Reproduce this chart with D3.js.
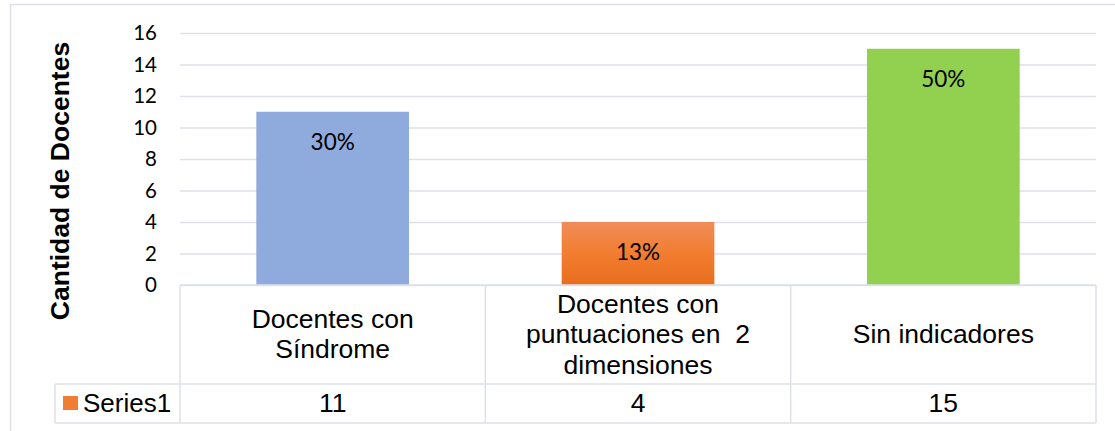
<!DOCTYPE html>
<html>
<head>
<meta charset="utf-8">
<script src="https://cdn.jsdelivr.net/npm/d3@7"></script>
<style>
  html, body { margin: 0; padding: 0; background: #fff; }
  svg { display: block; }
</style>
</head>
<body>
<svg id="chart" width="1115" height="431"></svg>
<script>
// chart data
var categories = ["Docentes con\nSíndrome", "Docentes con\npuntuaciones en\u00a0 2\ndimensiones", "Sin indicadores"];
var values = [11, 4, 15];
var pctLabels = ["30%", "13%", "50%"];
var barColors = ["#8FAADC", "url(#orangeGrad)", "#92D050"];
var yTicks = [0, 2, 4, 6, 8, 10, 12, 14, 16];
var seriesName = "Series1";

var gridColor = "#DDE1E7";
var svg = d3.select("#chart");

// gradient for the middle bar
var grad = svg.append("defs").append("linearGradient")
    .attr("id", "orangeGrad")
    .attr("x1", 0).attr("y1", 0).attr("x2", 0).attr("y2", 1);
grad.append("stop").attr("offset", "0%").attr("stop-color", "#F08C58");
grad.append("stop").attr("offset", "50%").attr("stop-color", "#F27D30");
grad.append("stop").attr("offset", "100%").attr("stop-color", "#E86E1D");

// outer chart border
svg.append("rect")
    .attr("x", 10.5).attr("y", 4.5)
    .attr("width", 1120).attr("height", 440)
    .attr("fill", "none")
    .attr("stroke", gridColor)
    .attr("stroke-width", 1.5);

var plotLeft = 180, plotRight = 1096, plotTop = 33, plotBottom = 285;
var rowMid = 384, tableBottom = 423, legendLeft = 55;

var x = d3.scaleBand()
    .domain(d3.range(categories.length))
    .range([plotLeft, plotRight])
    .paddingInner(0.5)
    .paddingOuter(0.25);

var xCell = d3.scaleBand()
    .domain(d3.range(categories.length))
    .range([plotLeft, plotRight])
    .padding(0);

var y = d3.scaleLinear()
    .domain([0, 16])
    .range([plotBottom, plotTop]);

// gridlines + tick labels
var yAxis = d3.axisLeft(y)
    .tickValues(yTicks)
    .tickSize(-(plotRight - plotLeft))
    .tickPadding(23)
    .tickFormat(d3.format("d"));

var gAxis = svg.append("g")
    .attr("transform", "translate(" + plotLeft + ",0)")
    .call(yAxis);
gAxis.select(".domain").remove();
gAxis.selectAll(".tick line")
    .attr("stroke", gridColor)
    .attr("stroke-width", 1.5);
gAxis.selectAll(".tick text")
    .attr("fill", "#000")
    .style("font-family", "Lato, 'Open Sans', sans-serif")
    .style("font-size", "20.5px");

// bars
svg.append("g").selectAll("rect")
    .data(values)
    .enter().append("rect")
    .attr("x", function (d, i) { return x(i); })
    .attr("y", function (d) { return y(d); })
    .attr("width", x.bandwidth())
    .attr("height", function (d) { return y(0) - y(d); })
    .attr("fill", function (d, i) { return barColors[i]; });

// data labels, inside end
svg.append("g").selectAll("text")
    .data(values)
    .enter().append("text")
    .attr("x", function (d, i) { return x(i) + x.bandwidth() / 2; })
    .attr("y", function (d) { return y(d) + 38; })
    .attr("text-anchor", "middle")
    .style("font-family", "Lato, 'Open Sans', sans-serif")
    .style("font-size", "22.5px")
    .attr("fill", "#000")
    .text(function (d, i) { return pctLabels[i]; });

// data table lines
var tbl = svg.append("g")
    .attr("stroke", gridColor)
    .attr("stroke-width", 1.5)
    .attr("fill", "none");

tbl.append("line").attr("x1", plotLeft).attr("x2", plotRight).attr("y1", plotBottom).attr("y2", plotBottom);
tbl.append("line").attr("x1", legendLeft).attr("x2", plotRight).attr("y1", rowMid).attr("y2", rowMid);
tbl.append("line").attr("x1", legendLeft).attr("x2", plotRight).attr("y1", tableBottom).attr("y2", tableBottom);
tbl.append("line").attr("x1", legendLeft).attr("x2", legendLeft).attr("y1", rowMid).attr("y2", tableBottom);
tbl.selectAll(".vline")
    .data(d3.range(categories.length + 1))
    .enter().append("line")
    .attr("class", "vline")
    .attr("x1", function (i) { return i < categories.length ? xCell(i) : plotRight; })
    .attr("x2", function (i) { return i < categories.length ? xCell(i) : plotRight; })
    .attr("y1", plotBottom)
    .attr("y2", tableBottom);

// category labels
var lineH = 30.5, midBase = 343;
var catG = svg.append("g")
    .style("font-family", "'Liberation Sans', Arial, sans-serif")
    .style("font-size", "26.5px")
    .attr("fill", "#000")
    .attr("text-anchor", "middle");

categories.forEach(function (c, i) {
    var lines = c.split("\n");
    var cx = xCell(i) + xCell.bandwidth() / 2;
    lines.forEach(function (ln, j) {
        catG.append("text")
            .attr("x", cx)
            .attr("y", midBase + (j - (lines.length - 1) / 2) * lineH)
            .text(ln);
    });
});

// value row
catG.selectAll(".val")
    .data(values)
    .enter().append("text")
    .attr("class", "val")
    .attr("x", function (d, i) { return xCell(i) + xCell.bandwidth() / 2; })
    .attr("y", 412)
    .text(function (d) { return d; });

// legend key in table
svg.append("rect")
    .attr("x", 63).attr("y", 396)
    .attr("width", 15).attr("height", 14)
    .attr("fill", "#F07D32");
svg.append("text")
    .attr("x", 83).attr("y", 412)
    .style("font-family", "'Liberation Sans', Arial, sans-serif")
    .style("font-size", "26px")
    .attr("fill", "#000")
    .text(seriesName);

// y axis title
svg.append("text")
    .attr("transform", "translate(69," + 181 + ") rotate(-90)")
    .attr("text-anchor", "middle")
    .style("font-family", "'Liberation Sans', Arial, sans-serif")
    .style("font-size", "26.5px")
    .style("font-weight", "bold")
    .attr("fill", "#000")
    .text("Cantidad de Docentes");
</script>
</body>
</html>
